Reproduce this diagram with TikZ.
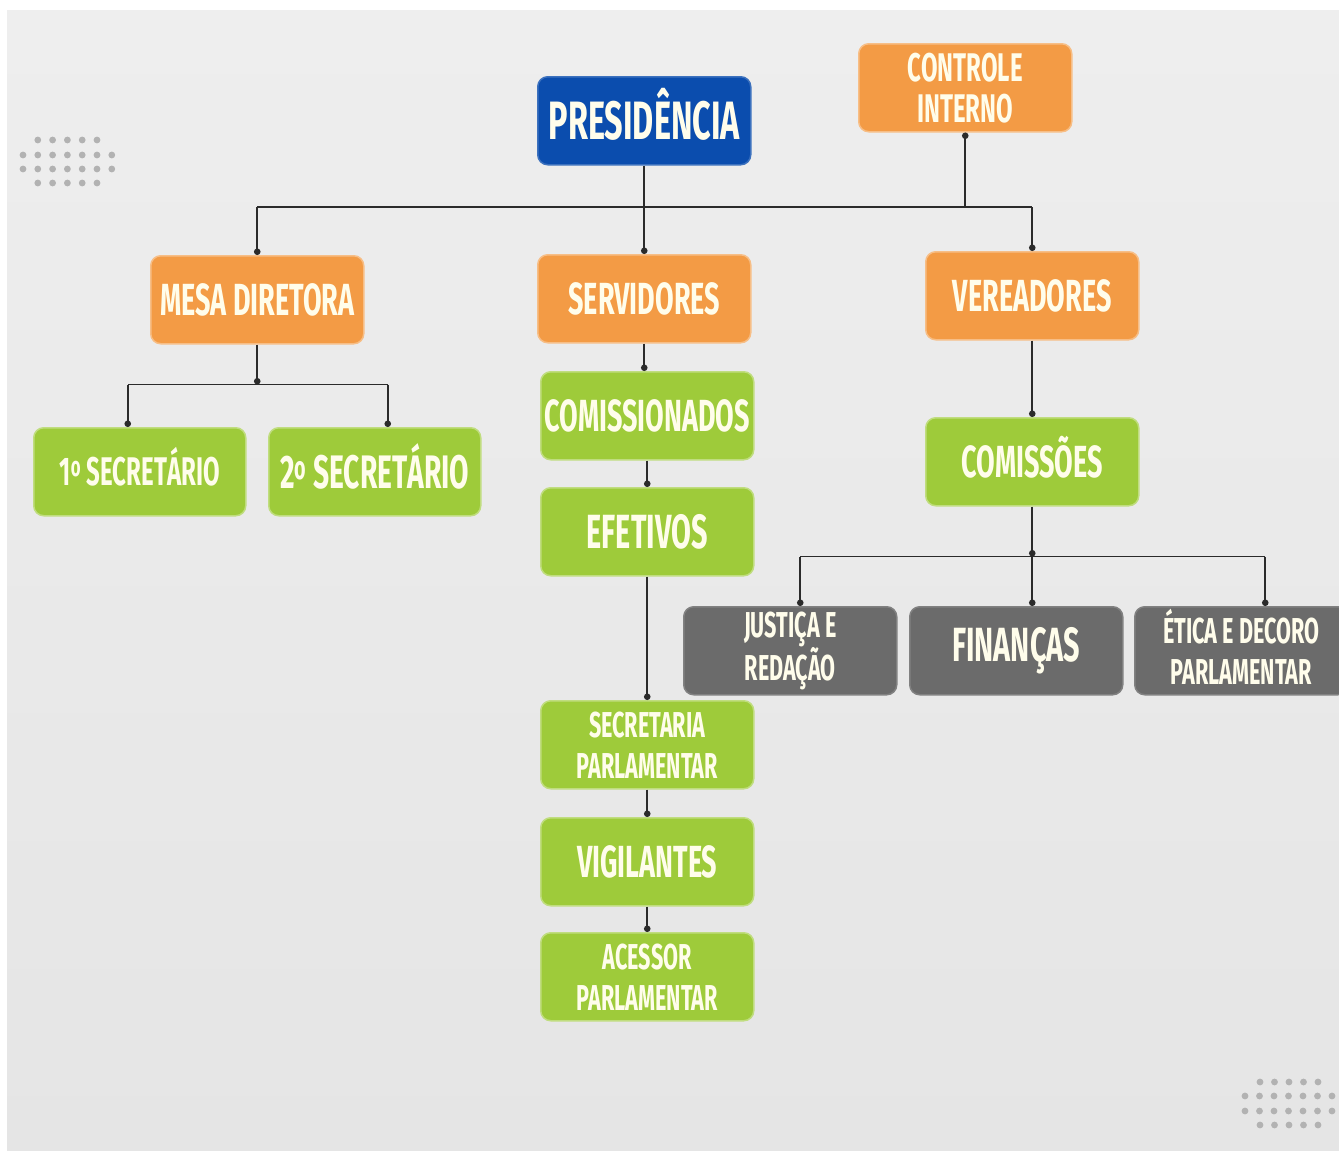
\documentclass[tikz,border=0pt]{standalone}
\usepackage{fontspec}
\newfontfamily\boxfont{Fira Sans}[FakeStretch=0.6]
\usetikzlibrary{arrows.meta,calc}

\definecolor{bluebox}{HTML}{0B4DAE}
\definecolor{orangebox}{HTML}{F39B45}
\definecolor{greenbox}{HTML}{9ECB3A}
\definecolor{graybox}{HTML}{6B6B6B}
\definecolor{boxtext}{HTML}{FFFDEB}
\definecolor{papertop}{HTML}{EEEEEE}
\definecolor{paperbottom}{HTML}{E5E5E5}
\definecolor{dotgray}{HTML}{B2B2B2}
\definecolor{wirecol}{HTML}{2B2B2B}

\begin{document}
\begin{tikzpicture}[x=1pt,y=-1pt,
    box/.style={rectangle,rounded corners=10pt,minimum width=213pt,minimum height=88pt,
        inner sep=0pt,text=boxtext,align=center,anchor=north west,line width=1.5pt},
    txt/.style={font=\boxfont\bfseries\fontsize{#1}{41}\selectfont},
    bluenode/.style={box,fill=bluebox,draw=bluebox!80!white},
    orangenode/.style={box,fill=orangebox,draw=orangebox!65!white},
    greennode/.style={box,fill=greenbox,draw=greenbox!65!white},
    graynode/.style={box,fill=graybox,draw=graybox!85!white},
    wire/.style={draw=wirecol,line width=1.6pt},
    link/.style={wire,-{Circle[length=6.5pt]}}]

        % paper
        \useasboundingbox (0,0) rectangle (1339,1151);
        \fill[white] (-5,-5) rectangle (1345,1160);
        \shade[top color=papertop,bottom color=paperbottom] (7,10) rectangle (1345,1160);

        % dot grids
        \foreach \row/\n/\x in {140/5/37.8,155/7/23,169/7/23,183/5/37.8}
            \foreach \i in {1,...,\n}
                \fill[dotgray] ({\x+14.8*(\i-1)},\row) circle (3.4pt);
        \foreach \row/\n/\x in {1082/5/1260,1096/7/1245,1111/7/1245,1125/5/1260}
            \foreach \i in {1,...,\n}
                \fill[dotgray] ({\x+14.5*(\i-1)},\row) circle (3.4pt);

        % top
        \node[bluenode,txt=54] (pres) at (537,76) {PRESID\smash{Ê}NCIA};
        \node[orangenode,txt=40] (ctrl) at (858,43) {CONTROLE\\INTERNO};

        % second row
        \node[orangenode,txt=45] (mesa) at (150,255) {MESA DIRETORA};
        \node[orangenode,txt=45] (serv) at (537,254) {SERVIDORES};
        \node[orangenode,txt=45] (ver) at (925,251) {VEREADORES};

        % mesa diretora
        \node[greennode,txt=40,minimum width=212pt] (sec1) at (33,427) {1\textsuperscript{o} SECRET\smash{Á}RIO};
        \node[greennode,txt=47,minimum width=212pt] (sec2) at (268,427) {2\textsuperscript{o} SECRET\smash{Á}RIO};

        % servidores
        \node[greennode,txt=45] (comi) at (540,371) {COMISSIONADOS};
        \node[greennode,txt=48] (efet) at (540,487) {EFETIVOS};
        \node[greennode,txt=36] (secp) at (540,700) {SECRETARIA\\PARLAMENTAR};
        \node[greennode,txt=45] (vig) at (540,817) {VIGILANTES};
        \node[greennode,txt=36] (acess) at (540,932) {ACESSOR\\PARLAMENTAR};

        % vereadores
        \node[greennode,txt=45] (coms) at (925,417) {COMISS\smash{Õ}ES};
        \node[graynode,txt=36] (jus) at (683,606) {JUSTIÇA E\\REDAÇÃO};
        \node[graynode,txt=48] (fin) at (909,606) {FINANÇAS};
        \node[graynode,txt=36] (eti) at (1134,606) {\smash{É}TICA E DECORO\\PARLAMENTAR};

        % connectors
        \coordinate (bus) at (0,207);
        \draw[link] (pres.south) -- (pres.south |- serv.north);
        \draw[wire] (mesa.north |- bus) -- (ver.north |- bus);
        \draw[link] (mesa.north |- bus) -- (mesa.north);
        \draw[link] (ver.north |- bus) -- (ver.north);
        \draw[wire,{Circle[length=6.5pt]}-] (ctrl.south) -- (ctrl.south |- bus);

        \coordinate (mesaj) at ($(mesa.south)+(0,40)$);
        \coordinate (s1top) at ($(sec1.north)+(-12,0)$);
        \coordinate (s2top) at ($(sec2.north)+(13,0)$);
        \draw[link] (mesa.south) -- (mesaj);
        \draw[wire] (s1top |- mesaj) -- (s2top |- mesaj);
        \draw[link] (s1top |- mesaj) -- (s1top);
        \draw[link] (s2top |- mesaj) -- (s2top);

        \draw[link] (serv.south) -- (serv.south |- comi.north);
        \draw[link] (comi.south) -- (efet.north);
        \draw[link] (efet.south) -- (secp.north);
        \draw[link] (secp.south) -- (vig.north);
        \draw[link] (vig.south) -- (acess.north);

        \draw[link] (ver.south) -- (coms.north);
        \coordinate (comj) at ($(coms.south)+(0,50)$);
        \coordinate (justop) at ($(jus.north)+(10,0)$);
        \coordinate (etitop) at ($(eti.north)+(24,0)$);
        \draw[link] (coms.south) -- (comj);
        \draw[wire] (justop |- comj) -- (etitop |- comj);
        \draw[link] (justop |- comj) -- (justop);
        \draw[link] (comj) -- (comj |- fin.north);
        \draw[link] (etitop |- comj) -- (etitop);
\end{tikzpicture}
\end{document}
